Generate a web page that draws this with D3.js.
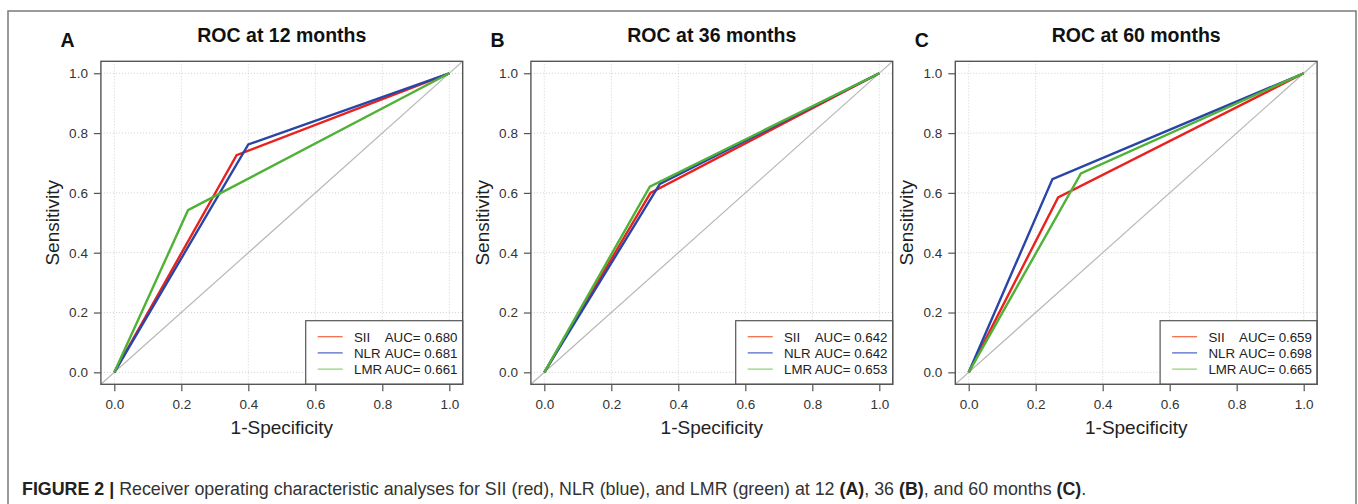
<!DOCTYPE html>
<html>
<head>
<meta charset="utf-8">
<script src="https://cdn.jsdelivr.net/npm/d3@7"></script>
<style>
  body { margin: 0; background: #fff; }
  svg { display: block; font-family: "Liberation Sans", Arial, Helvetica, sans-serif; }
</style>
</head>
<body>
<div id="chart"></div>
<script>
// data
const panelLetters = ["A", "B", "C"]
const panelTitles = ["ROC at 12 months", "ROC at 36 months", "ROC at 60 months"]
const markerNames = ["SII", "NLR", "LMR"]
// cut-off point [1-specificity, sensitivity] of each marker, per panel
const siiPoint = [[0.365, 0.726], [0.317, 0.600], [0.267, 0.585]]
const nlrPoint = [[0.400, 0.762], [0.345, 0.630], [0.250, 0.646]]
const lmrPoint = [[0.220, 0.542], [0.315, 0.621], [0.335, 0.665]]
const siiAuc = ["0.680", "0.642", "0.659"]
const nlrAuc = ["0.681", "0.642", "0.698"]
const lmrAuc = ["0.661", "0.653", "0.665"]
const tickValues = [0, 0.2, 0.4, 0.6, 0.8, 1.0]
const tickLabels = ["0.0", "0.2", "0.4", "0.6", "0.8", "1.0"]

const curveColors = ["#e8231f", "#2a45a8", "#4fb236"]
const legendColors = ["#f4623f", "#4661c4", "#8fd06e"]

const width = 1358
const height = 504

// Draw canvas
const svg = d3.select("#chart")
    .append("svg")
        .attr("width", width)
        .attr("height", height)

// outer figure frame
svg.append("rect")
    .attr("x", 8)
    .attr("y", 11)
    .attr("width", 1348)
    .attr("height", 520)
    .attr("fill", "none")
    .attr("stroke", "#7a7a7a")
    .attr("stroke-width", 1.5)

const boxLefts = [100.9, 530.9, 955.3]
const boxWidth = 361.8
const boxTop = 61.3
const boxBottom = 384.3

const yScale = d3.scaleLinear()
    .domain([-0.04, 1.04])
    .range([boxBottom, boxTop])

panelLetters.forEach((letter, i) => {
    const xScale = d3.scaleLinear()
        .domain([-0.04, 1.04])
        .range([boxLefts[i], boxLefts[i] + boxWidth])

    const panel = svg.append("g")

    // clip to plot box
    panel.append("clipPath")
        .attr("id", `clip${i}`)
      .append("rect")
        .attr("x", boxLefts[i])
        .attr("y", boxTop)
        .attr("width", boxWidth)
        .attr("height", boxBottom - boxTop)

    const plot = panel.append("g").attr("clip-path", `url(#clip${i})`)

    // grid
    plot.selectAll(".vgrid")
        .data(tickValues)
        .enter().append("line")
            .attr("x1", d => xScale(d))
            .attr("x2", d => xScale(d))
            .attr("y1", boxTop)
            .attr("y2", boxBottom)
            .attr("stroke", "#d0d0d0")
            .attr("stroke-dasharray", "1,2")
    plot.selectAll(".hgrid")
        .data(tickValues)
        .enter().append("line")
            .attr("y1", d => yScale(d))
            .attr("y2", d => yScale(d))
            .attr("x1", boxLefts[i])
            .attr("x2", boxLefts[i] + boxWidth)
            .attr("stroke", "#d0d0d0")
            .attr("stroke-dasharray", "1,2")

    // reference diagonal
    plot.append("line")
        .attr("x1", xScale(-0.04))
        .attr("y1", yScale(-0.04))
        .attr("x2", xScale(1.04))
        .attr("y2", yScale(1.04))
        .attr("stroke", "#b8b8b8")
        .attr("stroke-width", 1.2)

    // ROC curves
    const line = d3.line()
        .x(d => xScale(d[0]))
        .y(d => yScale(d[1]))
    const points = [siiPoint[i], nlrPoint[i], lmrPoint[i]]
    points.forEach((p, k) => {
        plot.append("path")
            .datum([[0, 0], p, [1, 1]])
            .attr("d", line)
            .attr("fill", "none")
            .attr("stroke", curveColors[k])
            .attr("stroke-width", 2.4)
            .attr("stroke-linejoin", "miter")
    })

    // legend
    const legLeft = boxLefts[i] + boxWidth - 157
    const legTop = 320.7
    panel.append("rect")
        .attr("x", legLeft)
        .attr("y", legTop)
        .attr("width", 157)
        .attr("height", boxBottom - legTop)
        .attr("fill", "#fff")
        .attr("stroke", "#555")
        .attr("stroke-width", 1.2)
    const aucs = [siiAuc[i], nlrAuc[i], lmrAuc[i]]
    markerNames.forEach((name, k) => {
        const y = legTop + 16 + k * 16.2
        panel.append("line")
            .attr("x1", legLeft + 12)
            .attr("x2", legLeft + 37)
            .attr("y1", y)
            .attr("y2", y)
            .attr("stroke", legendColors[k])
            .attr("stroke-width", 1.2)
        panel.append("text")
            .attr("x", legLeft + 48.3)
            .attr("y", y + 4.8)
            .style("font-size", "13.3px")
            .attr("fill", "#222")
            .text(name)
        panel.append("text")
            .attr("x", legLeft + 79)
            .attr("y", y + 4.8)
            .style("font-size", "13.3px")
            .attr("fill", "#222")
            .text(`AUC= ${aucs[k]}`)
    })

    // box
    panel.append("rect")
        .attr("x", boxLefts[i])
        .attr("y", boxTop)
        .attr("width", boxWidth)
        .attr("height", boxBottom - boxTop)
        .attr("fill", "none")
        .attr("stroke", "#555")
        .attr("stroke-width", 1.4)

    // axes
    const xAxis = panel.append("g")
        .attr("transform", `translate(0, ${boxBottom})`)
        .call(d3.axisBottom(xScale)
            .tickValues(tickValues)
            .tickFormat((d, j) => tickLabels[j])
            .tickSize(7)
            .tickPadding(8))
    const yAxis = panel.append("g")
        .attr("transform", `translate(${boxLefts[i]}, 0)`)
        .call(d3.axisLeft(yScale)
            .tickValues(tickValues)
            .tickFormat((d, j) => tickLabels[j])
            .tickSize(7)
            .tickPadding(6))
    ;[xAxis, yAxis].forEach(a => {
        a.select(".domain").remove()
        a.selectAll(".tick line").attr("stroke", "#555").attr("stroke-width", 1.2)
        a.selectAll(".tick text")
            .attr("fill", "#333")
            .style("font-size", "13.5px")
            .style("font-family", "'Liberation Sans', Arial, sans-serif")
    })

    // axis titles
    panel.append("text")
        .attr("x", boxLefts[i] + boxWidth / 2)
        .attr("y", 434)
        .attr("text-anchor", "middle")
        .style("font-size", "19px")
        .attr("fill", "#222")
        .text("1-Specificity")
    panel.append("text")
        .attr("transform", `translate(${boxLefts[i] - 42}, ${(boxTop + boxBottom) / 2}) rotate(-90)`)
        .attr("text-anchor", "middle")
        .style("font-size", "19px")
        .attr("fill", "#222")
        .text("Sensitivity")

    // title and panel letter
    panel.append("text")
        .attr("x", boxLefts[i] + boxWidth / 2)
        .attr("y", 42)
        .attr("text-anchor", "middle")
        .attr("font-weight", 700)
        .style("font-size", "19.5px")
        .attr("fill", "#111")
        .text(panelTitles[i])
    panel.append("text")
        .attr("x", boxLefts[i] - 40.5)
        .attr("y", 47)
        .attr("font-weight", 700)
        .style("font-size", "19.5px")
        .attr("fill", "#111")
        .text(letter)
})

// caption
const captionParts = [
    ["FIGURE 2 |", true], [" Receiver operating characteristic analyses for SII (red), NLR (blue), and LMR (green) at 12 ", false],
    ["(A)", true], [", 36 ", false], ["(B)", true], [", and 60 months ", false], ["(C)", true], [".", false]
]
const caption = svg.append("text")
    .attr("x", 22)
    .attr("y", 495)
    .attr("fill", "#333")
    .style("font-size", "15px")
    .attr("xml:space", "preserve")
captionParts.forEach(([t, bold]) => {
    caption.append("tspan")
        .attr("font-weight", bold ? 700 : 400)
        .attr("fill", bold ? "#222" : "#333")
        .text(t)
})
// fit caption to the width it has in the figure
const capLen = caption.node().getComputedTextLength()
caption.style("font-size", `${15 * 1065 / capLen}px`)
</script>
</body>
</html>
